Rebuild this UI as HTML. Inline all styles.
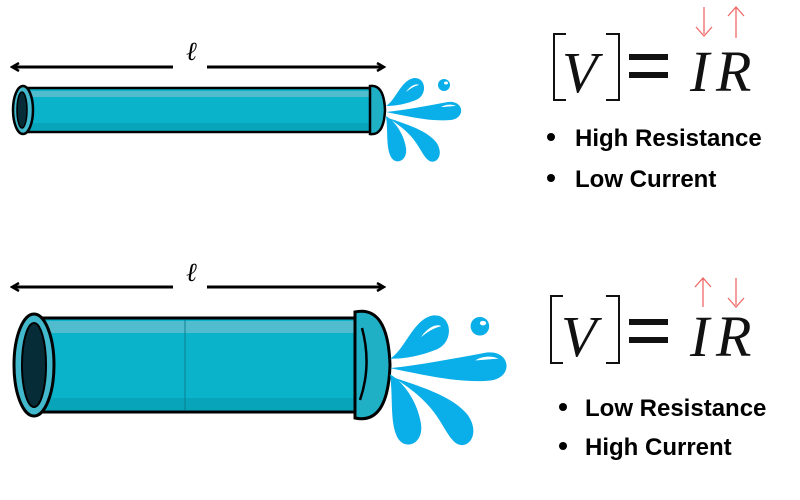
<!DOCTYPE html>
<html><head><meta charset="utf-8"><style>
html,body{margin:0;padding:0;background:#fff;width:800px;height:500px;overflow:hidden}
svg{display:block}
.b{font-family:"Liberation Sans",sans-serif;font-weight:bold;font-size:24px;fill:#000}
.eq{font-family:"Liberation Serif",serif;font-style:italic;font-size:58px;fill:#111}
</style></head><body>
<svg width="800" height="500" viewBox="0 0 800 500" xmlns="http://www.w3.org/2000/svg">
<defs>
<g id="water" fill="#0aaee8">
<path d="M0,-4 C10,-10 15,-30 28,-32 C40,-33 42,-15 30,-10 C20,-6 10,-4 0,-4Z"/>
<circle cx="58" cy="-25" r="6"/>
<path d="M0,2 C20,0 40,-4 62,-8 C78,-10 80,8 65,10 C45,12 20,6 0,2Z"/>
<path d="M0,6 C10,12 18,25 20,38 C22,52 8,56 4,45 C0,35 2,20 0,6Z"/>
<path d="M2,8 C20,14 40,20 50,32 C60,46 48,58 40,48 C32,38 30,25 2,8Z"/>
<g fill="#fff"><ellipse cx="60" cy="-27" rx="2" ry="1.5"/><path d="M20,-18 C24,-24 30,-27 33,-25 C28,-24 24,-21 20,-18Z"/><path d="M55,-3 C60,-6 66,-6 70,-4 C66,-4 60,-3 55,-3Z"/></g>
</g>
<marker id="ah" markerWidth="10" markerHeight="10" refX="8" refY="5" orient="auto-start-reverse" markerUnits="userSpaceOnUse"><path d="M1,1 L8,5 L1,9" fill="none" stroke="#000" stroke-width="2.5"/></marker>
</defs>

<line x1="12" y1="67" x2="173" y2="67" stroke="#000" stroke-width="3" marker-start="url(#ah)"/>
<line x1="207" y1="67" x2="384" y2="67" stroke="#000" stroke-width="3" marker-end="url(#ah)"/>
<text x="186" y="60" font-family="Liberation Serif,serif" font-style="italic" font-size="26">ℓ</text>

<rect x="24" y="88" width="352" height="44" fill="#0ab2ca" stroke="#000" stroke-width="2.5"/>
<rect x="26" y="91" width="348" height="6" fill="#52bccf"/>
<rect x="26" y="123" width="348" height="7" fill="#08a4ba"/>
<path d="M370,86 Q384,84 385,110 Q384,136 370,134Z" fill="#1fb0c6" stroke="#000" stroke-width="2.5"/>
<ellipse cx="23" cy="110" rx="10" ry="24" fill="#41b8cc" stroke="#000" stroke-width="2.5"/>
<ellipse cx="22" cy="110" rx="5" ry="18" fill="#062c38" stroke="#000" stroke-width="1.5"/>
<use href="#water" transform="translate(386,110) scale(1.0)"/>

<line x1="12" y1="287" x2="173" y2="287" stroke="#000" stroke-width="3" marker-start="url(#ah)"/>
<line x1="207" y1="287" x2="384" y2="287" stroke="#000" stroke-width="3" marker-end="url(#ah)"/>
<text x="186" y="281" font-family="Liberation Serif,serif" font-style="italic" font-size="26">ℓ</text>

<rect x="40" y="318" width="320" height="94" fill="#0ab2ca" stroke="#000" stroke-width="3"/>
<rect x="42" y="321" width="316" height="12" fill="#52bccf"/>
<rect x="42" y="398" width="316" height="12" fill="#08a4ba"/>
<line x1="185" y1="320" x2="185" y2="410" stroke="#0a8090" stroke-width="1"/>
<path d="M355,312 Q388,305 390,365 Q388,425 355,418 Z" fill="#1fb0c6" stroke="#000" stroke-width="3"/>
<path d="M362,328 Q372,365 360,400" fill="none" stroke="#000" stroke-width="2.5"/>
<ellipse cx="34" cy="365" rx="20" ry="51" fill="#41b8cc" stroke="#000" stroke-width="3"/>
<ellipse cx="34" cy="365" rx="12" ry="42" fill="#062c38" stroke="#000" stroke-width="2"/>
<use href="#water" transform="translate(390,365) scale(1.55)"/>

<g fill="none" stroke="#111" stroke-width="2">
<path d="M566,34 H554 V100 H566"/><path d="M606,34 H619 V100 H606"/>
</g>
<text x="562" y="92" class="eq">V</text>
<rect x="629" y="54" width="39" height="6" fill="#111"/><rect x="629" y="72" width="39" height="6" fill="#111"/>
<text x="690" y="91" class="eq">I</text><text x="716" y="91" class="eq">R</text>
<g fill="none" stroke="#f06a6a" stroke-width="1.3">
<path d="M704,7 V34 M696,27 L704,36 L712,27"/>
<path d="M736,38 V8 M728,16 L736,7 L744,16"/>
</g>
<circle cx="551" cy="137" r="4" fill="#000"/>
<text x="575" y="146" class="b">High Resistance</text>
<circle cx="551" cy="178" r="4" fill="#000"/>
<text x="575" y="187" class="b">Low Current</text>

<g fill="none" stroke="#111" stroke-width="2">
<path d="M563,296 H551 V363 H563"/><path d="M606,296 H619 V363 H606"/>
</g>
<text x="561" y="356" class="eq">V</text>
<rect x="629" y="319" width="39" height="6" fill="#111"/><rect x="629" y="337" width="39" height="6" fill="#111"/>
<text x="690" y="356" class="eq">I</text><text x="716" y="356" class="eq">R</text>
<g fill="none" stroke="#f06a6a" stroke-width="1.3">
<path d="M703,307 V279 M695,287 L703,278 L711,287"/>
<path d="M736,278 V305 M728,298 L736,307 L744,298"/>
</g>
<circle cx="563" cy="407" r="4" fill="#000"/>
<text x="585" y="416" class="b">Low Resistance</text>
<circle cx="563" cy="446" r="4" fill="#000"/>
<text x="585" y="455" class="b">High Current</text>
</svg>
</body></html>
